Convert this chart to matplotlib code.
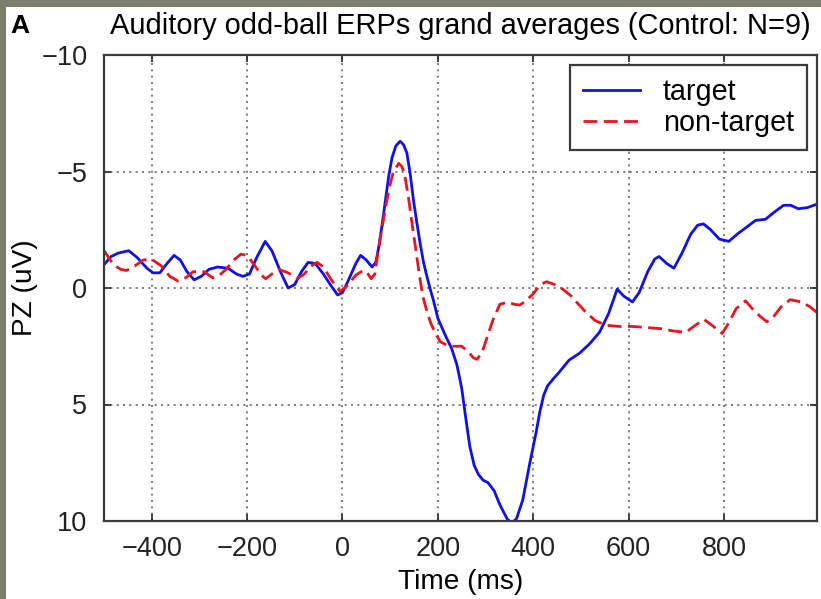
import matplotlib.pyplot as plt
from matplotlib.patches import Rectangle

# Time (ms) and PZ amplitude (uV)
target_t = [-500, -485, -470, -448, -430, -410, -397, -383, -368, -353, -340, -326,
            -311, -296, -280, -262, -240, -222, -209, -195, -180, -162, -148, -130,
            -114, -100, -86, -72, -57, -40, -24, -10, 0, 14, 28, 38, 50, 62, 70, 76,
            83, 90, 97, 104, 112, 121, 128, 135, 142, 149, 156, 163, 170, 177, 184,
            191, 200, 215, 229, 240, 250, 258, 267, 276, 285, 295, 305, 318, 330,
            345, 355, 365, 378, 392, 406, 414, 422, 430, 442, 455, 475, 497, 518,
            539, 558, 576, 590, 608, 622, 640, 655, 664, 680, 695, 712, 730, 745,
            757, 772, 790, 810, 830, 850, 866, 887, 905, 925, 940, 956, 975, 995]
target_v = [-1.0, -1.35, -1.5, -1.6, -1.3, -0.85, -0.65, -0.65, -1.05, -1.4, -1.2, -0.7,
            -0.35, -0.5, -0.8, -0.9, -0.85, -0.6, -0.5, -0.6, -1.3, -2.0, -1.6, -0.7,
            0.0, -0.15, -0.7, -1.1, -1.05, -0.6, -0.1, 0.3, 0.2, -0.4, -1.05, -1.4,
            -1.2, -0.9, -1.1, -1.75, -2.7, -3.75, -4.8, -5.6, -6.1, -6.3, -6.15, -5.8,
            -4.9, -3.75, -2.8, -1.9, -1.1, -0.5, 0.05, 0.55, 1.3, 2.0, 2.6, 3.3, 4.3,
            5.5, 6.8, 7.6, 8.0, 8.25, 8.35, 8.7, 9.3, 9.9, 10.1, 9.9, 9.1, 7.6, 6.2,
            5.3, 4.6, 4.2, 3.9, 3.6, 3.1, 2.8, 2.4, 1.9, 1.1, 0.05, 0.35, 0.6, 0.2,
            -0.7, -1.25, -1.35, -1.05, -0.85, -1.5, -2.3, -2.7, -2.75, -2.5, -2.1,
            -2.0, -2.35, -2.65, -2.9, -2.95, -3.25, -3.55, -3.55, -3.4, -3.45, -3.6]

nontarget_t = [-500, -490, -480, -465, -453, -435, -418, -401, -380, -362, -345, -328,
               -313, -290, -272, -258, -244, -228, -213, -200, -185, -170, -161, -148,
               -134, -120, -109, -95, -80, -65, -53, -40, -25, -5, 10, 28, 43, 52, 60,
               68, 75, 84, 93, 100, 107, 118, 125, 131, 139, 146, 152, 159, 164, 169,
               177, 185, 195, 205, 218, 232, 250, 262, 275, 282, 292, 302, 315, 330,
               347, 360, 372, 385, 400, 415, 428, 445, 462, 480, 495, 511, 530, 553,
               580, 608, 640, 670, 695, 720, 740, 758, 775, 796, 810, 825, 845, 860,
               875, 890, 905, 920, 939, 962, 980, 995]
nontarget_v = [-1.6, -1.3, -1.0, -0.8, -0.75, -0.95, -1.2, -1.25, -0.95, -0.5, -0.3, -0.45,
               -0.7, -0.7, -0.43, -0.55, -0.8, -1.2, -1.45, -1.4, -1.0, -0.55, -0.4, -0.6,
               -0.8, -0.7, -0.6, -0.4, -0.6, -0.95, -1.1, -0.9, -0.4, 0.15, -0.1, -0.55,
               -0.75, -0.65, -0.4, -0.6, -1.6, -2.7, -3.75, -4.45, -5.0, -5.35, -5.2,
               -4.8, -3.8, -2.75, -1.9, -0.9, -0.2, 0.4, 1.0, 1.5, 1.95, 2.3, 2.45, 2.5,
               2.5, 2.7, 3.0, 3.06, 2.8, 2.2, 1.4, 0.7, 0.6, 0.7, 0.73, 0.55, 0.25, -0.15,
               -0.27, -0.15, 0.05, 0.35, 0.7, 1.05, 1.4, 1.6, 1.65, 1.65, 1.7, 1.75, 1.85,
               1.9, 1.6, 1.35, 1.6, 1.95, 1.5, 0.9, 0.55, 0.9, 1.2, 1.45, 1.2, 0.8, 0.5,
               0.6, 0.8, 1.05]

x_ticks = [-400, -200, 0, 200, 400, 600, 800]
y_ticks = [-10, -5, 0, 5, 10]

plt.rcParams['font.family'] = ['Liberation Sans', 'DejaVu Sans']

W, H = 821, 599
fig = plt.figure(figsize=(W / 100, H / 100), dpi=100)
fig.patch.set_facecolor('#7d7d6c')
# white page inside the grey frame
fig.patches.append(Rectangle((6 / W, 0), 1 - 6 / W, 1 - 7 / H, transform=fig.transFigure,
                             facecolor='white', edgecolor='none', zorder=-10))

ax = fig.add_axes([104 / W, 1 - 521 / H, (817 - 104) / W, (521 - 55) / H])
ax.plot(target_t, target_v, color='#1010e8', lw=2.0, label='target')
ax.plot(nontarget_t, nontarget_v, color='#e8141e', lw=2.0, ls=(0, (5, 2.3)), label='non-target')

ax.set_xlim(-500, 995)
ax.set_ylim(10, -10)
ax.set_xticks(x_ticks)
ax.set_yticks(y_ticks)
ax.grid(True, ls=(0, (1.2, 2.6)), color='#666666', lw=1.2)
ax.tick_params(direction='in', top=True, right=True, length=5, width=1.2,
               labelsize=19.5, colors='#222222')
ax.tick_params(axis='x', pad=11)
ax.tick_params(axis='y', pad=12)
for s in ax.spines.values():
    s.set_linewidth(1.6)
    s.set_color('#3a3a3a')

ax.set_xlabel('Time (ms)', fontsize=20.2, labelpad=5)
ax.set_ylabel('PZ (uV)', fontsize=20.2, labelpad=2)
ax.set_title('Auditory odd-ball ERPs grand averages (Control: N=9)', fontsize=20.9, pad=15)
fig.text(10 / W, 1 - 33 / H, 'A', fontsize=19, fontweight='bold')

leg = ax.legend(loc='upper right', fancybox=False, framealpha=1, edgecolor='#3a3a3a',
                handlelength=2.0, handletextpad=0.8, borderaxespad=0.35, borderpad=0.45,
                labelspacing=0.1, fontsize=20.7)
leg.get_frame().set_linewidth(1.6)

fig.savefig('out.png', dpi=100)
